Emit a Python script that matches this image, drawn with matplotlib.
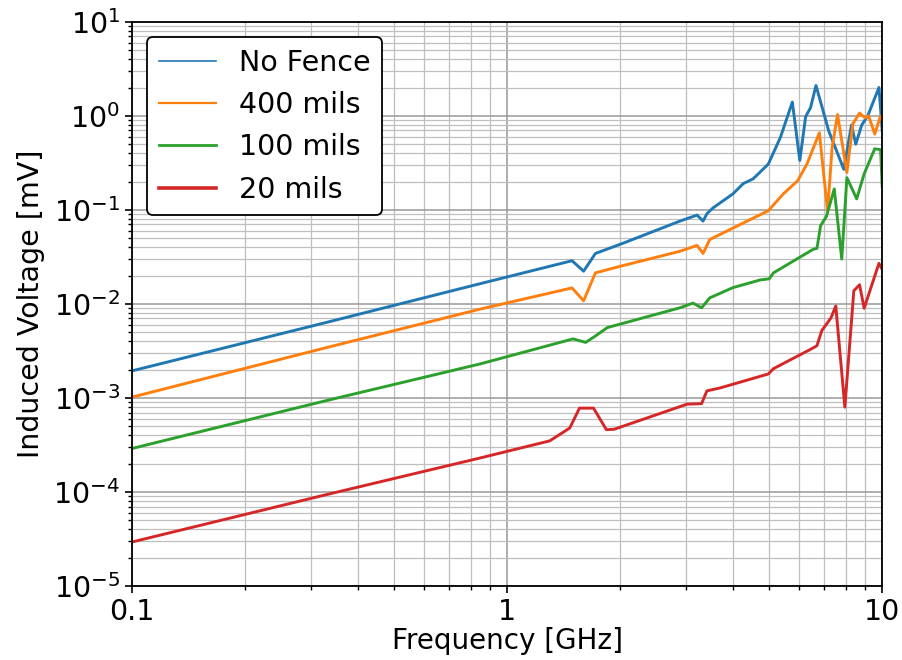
import matplotlib
matplotlib.use("Agg")
import matplotlib.pyplot as plt
from matplotlib.ticker import LogLocator, NullFormatter

# frequency [GHz] / induced voltage [mV]
f_nofence = [0.1, 0.327, 0.847, 1.49, 1.6, 1.72, 2.05, 2.89, 3.21, 3.33, 3.41, 3.54,
             4.0, 4.26, 4.53, 4.97, 5.35, 5.76, 6.03, 6.25, 6.44, 6.66, 7.2, 7.9,
             8.28, 8.5, 8.82, 9.15, 9.8, 10.0]
v_nofence = [1.94e-3, 6.3e-3, 0.0164, 0.0288, 0.0223, 0.0344, 0.0446, 0.076, 0.088,
             0.076, 0.091, 0.105, 0.148, 0.19, 0.214, 0.307, 0.586, 1.4, 0.335,
             0.98, 1.22, 2.1, 0.693, 0.27, 0.8, 0.5, 0.8, 1.0, 2.0, 0.7]

f_400 = [0.1, 0.327, 0.847, 1.49, 1.6, 1.72, 2.0, 2.89, 3.21, 3.33, 3.47, 4.0, 4.97,
         5.45, 5.95, 6.3, 6.8, 7.15, 7.35, 7.6, 8.05, 8.35, 8.7, 9.0, 9.2, 9.55,
         9.9, 10.0]
v_400 = [1.02e-3, 3.4e-3, 8.8e-3, 0.0148, 0.0108, 0.0214, 0.0251, 0.0363, 0.0419,
         0.0344, 0.0484, 0.064, 0.098, 0.148, 0.204, 0.307, 0.66, 0.096, 0.456,
         1.03, 0.25, 0.82, 1.07, 0.95, 1.0, 0.64, 1.0, 0.93]

f_100 = [0.1, 0.327, 0.847, 1.5, 1.62, 1.72, 1.85, 2.89, 3.13, 3.3, 3.47, 4.0, 4.73,
         5.0, 5.13, 6.54, 6.7, 6.85, 7.1, 7.45, 7.8, 8.05, 8.55, 8.95, 9.55, 9.9,
         10.0]
v_100 = [2.9e-4, 9.3e-4, 2.3e-3, 4.25e-3, 3.9e-3, 4.56e-3, 5.6e-3, 9.1e-3, 0.0102,
         9.1e-3, 0.0116, 0.0149, 0.018, 0.0185, 0.0214, 0.038, 0.039, 0.068, 0.085,
         0.167, 0.03, 0.22, 0.131, 0.242, 0.446, 0.437, 0.177]

f_20 = [0.1, 0.327, 0.847, 1.3, 1.47, 1.56, 1.7, 1.84, 1.93, 3.02, 3.3, 3.41, 3.7,
        4.0, 4.97, 5.13, 6.54, 6.7, 6.9, 7.3, 7.52, 7.95, 8.4, 8.7, 8.95, 9.8, 10.0]
v_20 = [2.94e-5, 9.3e-5, 2.3e-4, 3.5e-4, 4.8e-4, 7.8e-4, 7.8e-4, 4.6e-4, 4.65e-4,
        8.6e-4, 8.7e-4, 1.19e-3, 1.28e-3, 1.4e-3, 1.8e-3, 2.05e-3, 3.4e-3, 3.6e-3,
        5.2e-3, 7.1e-3, 9.5e-3, 8.0e-4, 0.0138, 0.016, 9.0e-3, 0.027, 0.0233]

labels = ["No Fence", "400 mils", "100 mils", "20 mils"]
x_ticks = [0.1, 1, 10]
x_ticklabels = ["0.1", "1", "10"]
y_ticks = [1e-5, 1e-4, 1e-3, 1e-2, 1e-1, 1e0, 1e1]

fig = plt.figure(figsize=(9.03, 6.6), dpi=100)
ax = fig.add_axes([0.146, 0.112, 0.831, 0.855])

series = [(f_nofence, v_nofence), (f_400, v_400), (f_100, v_100), (f_20, v_20)]
for (f, v), lab, c in zip(series, labels, ["C0", "C1", "C2", "C3"]):
    ax.plot(f, v, color=c, lw=2.1, label=lab)

ax.set_xscale("log")
ax.set_yscale("log")
ax.set_xlim(0.1, 10)
ax.set_ylim(1e-5, 1e1)

ax.set_xticks(x_ticks)
ax.set_xticklabels(x_ticklabels)
ax.xaxis.set_minor_formatter(NullFormatter())
ax.set_yticks(y_ticks)
ax.yaxis.set_minor_locator(LogLocator(base=10, subs=range(2, 10), numticks=20))
ax.yaxis.set_minor_formatter(NullFormatter())

ax.grid(True, which="major", color="0.6", lw=1.1)
ax.grid(True, which="minor", color="0.75", lw=0.9)
ax.set_axisbelow(True)

ax.tick_params(which="major", labelsize=20.5, length=5, width=1.2)
ax.tick_params(which="minor", length=3, width=1.0)
for s in ax.spines.values():
    s.set_linewidth(1.3)

ax.set_xlabel("Frequency [GHz]", fontsize=20, labelpad=1)
ax.set_ylabel("Induced Voltage [mV]", fontsize=20.5, labelpad=6)

leg = ax.legend(loc="upper left", fontsize=20.5, framealpha=1,
                edgecolor="black", borderaxespad=0.55)
leg.get_frame().set_linewidth(1.3)
for line, w in zip(leg.get_lines(), [1.2, 1.6, 2.0, 2.6]):
    line.set_linewidth(w)

fig.savefig("out.png", dpi=100)
